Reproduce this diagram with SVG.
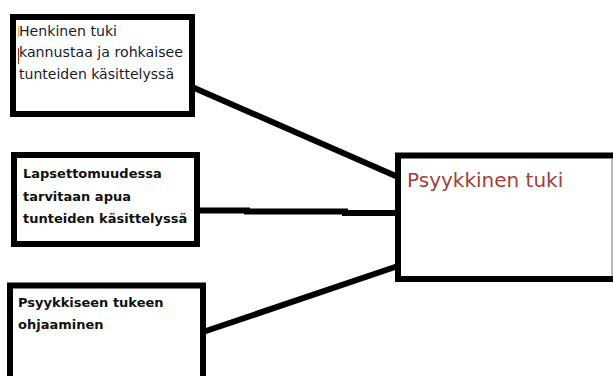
<svg xmlns="http://www.w3.org/2000/svg" width="613" height="376" viewBox="0 0 613 376">
<style>
.box{fill:#fff;stroke:#000;stroke-width:6}
.t{font-family:"DejaVu Sans",Tahoma,Verdana,sans-serif;font-size:13px;fill:#111}
.r{font-family:"DejaVu Sans Condensed","DejaVu Sans",Tahoma,sans-serif;font-stretch:condensed;font-size:13.5px;fill:#1a1a2e}
.b{font-weight:bold}
.big{font-family:"DejaVu Sans",Tahoma,Verdana,sans-serif;font-size:20px;fill:#a3403a}
.conn{stroke:#000;stroke-width:6;fill:none}
</style>
<rect width="613" height="376" fill="#fff"/>
<g id="connectors">
<line class="conn" x1="192" y1="87" x2="398" y2="177"/>
<polyline class="conn" points="197,210.5 247,210.5 247,211.5 345,211.5 345,213 398,213"/>
<line class="conn" x1="203" y1="332" x2="398" y2="266"/>
</g>
<g id="n1">
<rect class="box" x="13" y="17" width="179" height="97"/>
<text class="r" x="19" y="36" textLength="98" lengthAdjust="spacingAndGlyphs">Henkinen tuki</text>
<text class="r" x="19" y="57" textLength="164" lengthAdjust="spacingAndGlyphs">kannustaa ja rohkaisee</text>
<text class="r" x="19" y="79" textLength="155" lengthAdjust="spacingAndGlyphs">tunteiden käsittelyssä</text>
<line x1="18.5" y1="26" x2="18.5" y2="37" stroke="#e0a050" stroke-width="1"/>
<line x1="18.5" y1="48" x2="18.5" y2="64" stroke="#8a3020" stroke-width="1"/>
</g>
<g id="n2">
<rect class="box" x="14" y="155" width="183" height="89"/>
<text class="t b" x="23" y="178">Lapsettomuudessa</text>
<text class="t b" x="23" y="201">tarvitaan apua</text>
<text class="t b" x="23" y="223">tunteiden käsittelyssä</text>
</g>
<g id="n3">
<rect class="box" x="10" y="285.5" width="193" height="100"/>
<text class="t b" x="18" y="307">Psyykkiseen tukeen</text>
<text class="t b" x="18" y="329">ohjaaminen</text>
</g>
<g id="n4">
<rect class="box" x="398" y="155.5" width="230" height="123.5"/>
<line x1="612" y1="158" x2="612" y2="276" stroke="#777" stroke-width="1"/>
<text class="big" x="407" y="187">Psyykkinen tuki</text>
</g>
</svg>
